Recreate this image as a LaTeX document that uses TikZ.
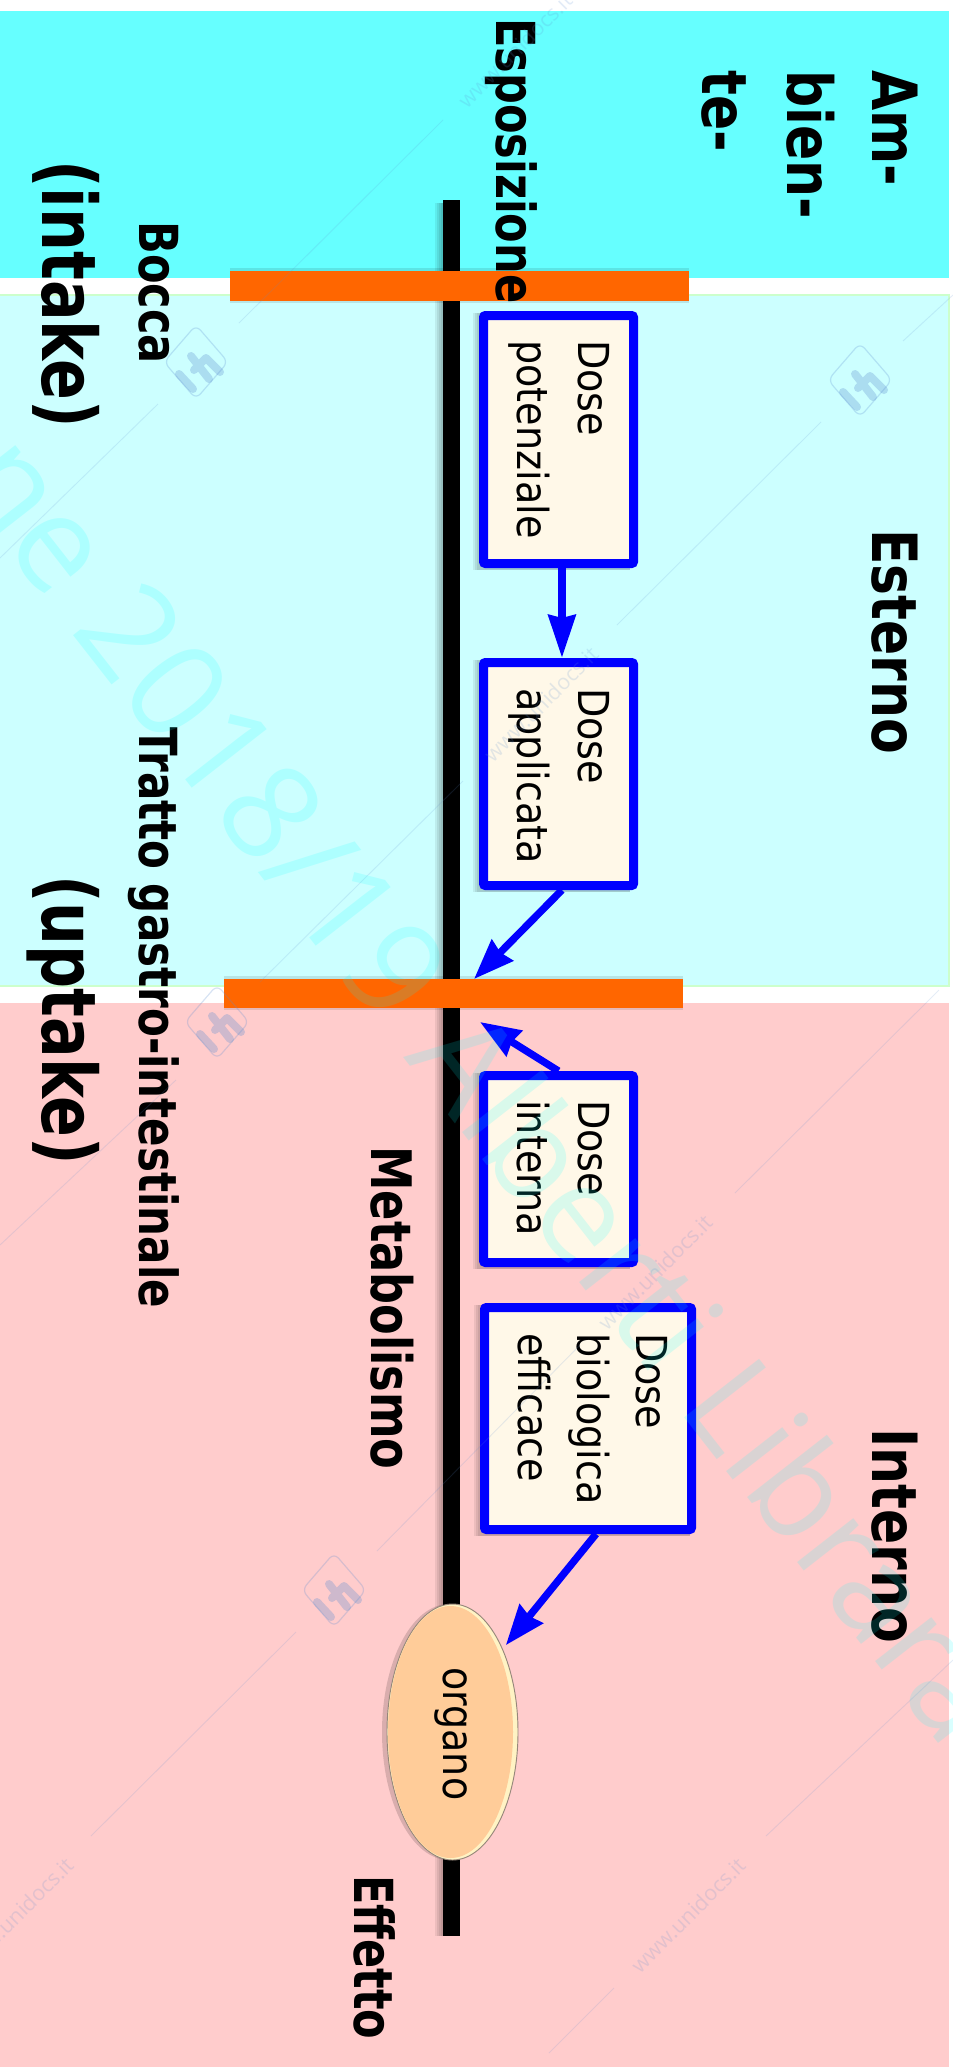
\documentclass[tikz,border=0pt]{standalone}
\usepackage{fontspec}
\setmainfont{DejaVu Sans}
\newfontfamily\wmfont{Open Sans}
\usetikzlibrary{arrows.meta,shapes.geometric}
\definecolor{bandtop}{HTML}{66FFFF}
\definecolor{bandmid}{HTML}{CCFFFF}
\definecolor{bandlow}{HTML}{FFCCCC}
\definecolor{bandedge}{HTML}{CCFFCC}
\definecolor{boxfill}{HTML}{FFF8E8}
\definecolor{barcol}{HTML}{FF6600}
\definecolor{organcol}{HTML}{FFCC99}
\definecolor{organlite}{HTML}{FFF3C4}
\definecolor{organedge}{HTML}{96877A}
\definecolor{wmline}{HTML}{5F8FD0}
\definecolor{wmcyan}{HTML}{00FFFF}
\definecolor{pureblue}{HTML}{0000FF}
\newcommand\pxx[1]{#1*0.75pt}
\tikzset{
  x=0.75pt,y=-0.75pt,
  dosebox/.style={draw=pureblue,fill=boxfill,line width=6.75pt,rounded corners=1.5pt,inner sep=0pt},
  barnode/.style={fill=barcol,inner sep=0pt,outer sep=0pt},
  boldlab/.style={rotate=-90,yscale=1.25,anchor=base west,inner sep=0pt,font=\bfseries\fontsize{32.3}{36}\selectfont},
  headlab/.style={rotate=-90,yscale=1.2,anchor=north west,inner sep=0pt,align=left,font=\bfseries\fontsize{39}{53}\selectfont},
  biglab/.style={rotate=-90,yscale=1.25,anchor=base west,inner sep=0pt,font=\bfseries\fontsize{45.2}{50}\selectfont},
  doselab/.style={rotate=-90,yscale=1.12,anchor=north west,inner sep=0pt,align=left,font=\fontsize{28.6}{40.8}\selectfont},
  arr/.style={draw=pureblue,line width=6pt,-{Stealth[length=32pt,width=20pt,inset=2pt]}},
  arrb/.style={draw=pureblue,line width=5.5pt,-{Stealth[length=30pt,width=22pt,inset=2pt]}},
  wmthin/.style={draw=wmline,opacity=0.16,line width=0.7pt},
  wmurl/.style={rotate=45,inner sep=0pt,text=wmline,text opacity=0.18,font=\wmfont\fontsize{16}{16}\selectfont},
}
\newcommand\wmlogo[2]{%
  \begin{scope}[shift={(#1,#2)}]
    \draw[wmline,opacity=0.25,line width=0.9pt,rounded corners=5pt]
      (-32,0)--(0,-37)--(32,0)--(0,37)--cycle;
    \draw[wmline,opacity=0.3,line width=6pt,line cap=round]
      (-17,12)--(-3,27) (-5,-6)--(13,17) (-2,8)--(10,-4) (10,-4)--(24,10);
  \end{scope}}
\begin{document}
\begin{tikzpicture}
\useasboundingbox (0,0) rectangle (953,2067);
\begin{scope}
\clip (0,0) rectangle (953,2067);
% bands
\fill[bandtop] (0,11) rectangle (949,278);
\fill[bandmid] (0,295) rectangle (949,986);
\draw[bandedge,line width=0.8pt] (0,295) -- (949,295) -- (949,986) -- (0,986);
\fill[bandlow] (0,1003) rectangle (949,2067);
% axis with its shadow
\coordinate (axtop) at (451.5,200);
\coordinate (axbot) at (451.5,1936);
\foreach \d in {2,4,6,8}
  \fill[black,opacity=0.07] (443-\d,203) rectangle (443,1936);
\draw[black,line width=12.75pt] (axtop) -- (axbot);
% box shadows
\foreach \d in {2,4,6}{
  \fill[black,opacity=0.07] (479-\d,313) rectangle (630,570);
  \fill[black,opacity=0.07] (479-\d,660) rectangle (630,892);
  \fill[black,opacity=0.07] (479-\d,1073) rectangle (630,1269);
  \fill[black,opacity=0.07] (480-\d,1305) rectangle (690,1536);
}
% boxes
\node[dosebox,minimum width={\pxx{150}},minimum height={\pxx{248}}] (d1) at (558.5,439.5) {};
\node[dosebox,minimum width={\pxx{150}},minimum height={\pxx{223}}] (d2) at (558.5,774) {};
\node[dosebox,minimum width={\pxx{150}},minimum height={\pxx{187}}] (d3) at (558.5,1169) {};
\node[dosebox,minimum width={\pxx{207}},minimum height={\pxx{222}}] (d4) at (588,1418.5) {};
% membranes
\fill[black,opacity=0.1] (230,268) rectangle (689,303);
\fill[black,opacity=0.1] (224,976) rectangle (683,1010);
\node[barnode,minimum width={\pxx{459}},minimum height={\pxx{30}}] (bar1) at (459.5,286) {};
\node[barnode,minimum width={\pxx{459}},minimum height={\pxx{29}}] (bar2) at (453.5,993.5) {};
% organ
\fill[black,opacity=0.15] (449,1732) ellipse [x radius=67,y radius=128];
\node[ellipse,draw=organedge,fill=organlite,line width=0.7pt,inner sep=0pt,minimum width={\pxx{131}},minimum height={\pxx{256}}] (organ) at (452.5,1732) {};
\fill[organcol] (450.5,1732) ellipse [x radius=62.5,y radius=126];
% connectors
\draw[arr] ([xshift=2.6pt]d1.south) -- ([xshift=2.6pt]d2.north);
\draw[arrb] ([xshift=2.6pt]d2.south) -- ([xshift=15.4pt]bar2.north);
\draw[arrb] (d3.north) -- ([xshift=19.9pt,yshift=-10.5pt]bar2.south);
\draw[arrb] ([xshift=6pt]d4.south) -- ([xshift=5pt,yshift=-3pt]organ.north east);
% labels
\node[headlab] (tamb) at (918,70) {Am-\\bien-\\te-};
\node[headlab] (test) at (918,529) {Esterno};
\node[headlab] (tint) at (918,1428) {Interno};
\node[boldlab] (tesp) at (496,18) {Esposizione};
\node[boldlab] (tboc) at (139,221) {Bocca};
\node[boldlab,font=\bfseries\fontsize{31.5}{36}\selectfont] (ttra) at (139,727) {Tratto gastro-intestinale};
\node[boldlab,font=\bfseries\fontsize{33.5}{36}\selectfont] (tmet) at (371,1146) {Metabolismo};
\node[boldlab] (teff) at (354,1875) {Effetto};
\node[biglab] (tin) at (42,160) {(intake)};
\node[biglab] (tup) at (42,875) {(uptake)};
\node[doselab] (t1) at (610,340) {Dose\\potenziale};
\node[doselab] (t2) at (610,688) {Dose\\applicata};
\node[doselab] (t3) at (610,1100) {Dose\\interna};
\node[doselab,font=\fontsize{28.6}{39.5}\selectfont] (t4) at (668,1333) {Dose\\biologica\\efficace};
\node[rotate=-90,yscale=1.12,anchor=base west,inner sep=0pt,font=\fontsize{28.5}{30}\selectfont] (torg) at (443,1667) {organo};
% watermark
\coordinate (w1a) at (239,323); \coordinate (w1b) at (443,120);
\coordinate (w2a) at (0,558); \coordinate (w2b) at (158,404);
\coordinate (w3a) at (617,625); \coordinate (w3b) at (821,422);
\coordinate (w4a) at (903,341); \coordinate (w4b) at (953,295);
\coordinate (w5a) at (0,1245); \coordinate (w5b) at (176,1080);
\coordinate (w6a) at (735,1193); \coordinate (w6b) at (939,990);
\coordinate (w7a) at (260,982); \coordinate (w7b) at (463,781);
\coordinate (w8a) at (91,1836); \coordinate (w8b) at (296,1632);
\coordinate (w9a) at (377,1551); \coordinate (w9b) at (580,1345);
\coordinate (w10a) at (766,1836); \coordinate (w10b) at (953,1660);
\coordinate (w11a) at (549,2053); \coordinate (w11b) at (614,1988);
\foreach \i in {1,...,11} \draw[wmthin] (w\i a) -- (w\i b);
\wmlogo{196}{362}
\wmlogo{860}{380}
\wmlogo{217}{1022}
\wmlogo{334}{1590}
\wmlogo{985}{950}
\node[wmurl] (u1) at (515,50) {www.unidocs.it};
\node[wmurl] (u2) at (541,704) {www.unidocs.it};
\node[wmurl] (u3) at (655,1272) {www.unidocs.it};
\node[wmurl] (u4) at (688,1915) {www.unidocs.it};
\node[wmurl] (u5) at (16,1915) {www.unidocs.it};
\node[rotate=-52,anchor=base west,inner sep=0pt,text=wmcyan,text opacity=0.15,font=\wmfont\fontsize{100}{100}\selectfont] (wm) at (-48,480) {ne 2018/19 Alberti Librara};
\end{scope}
\end{tikzpicture}
\end{document}
